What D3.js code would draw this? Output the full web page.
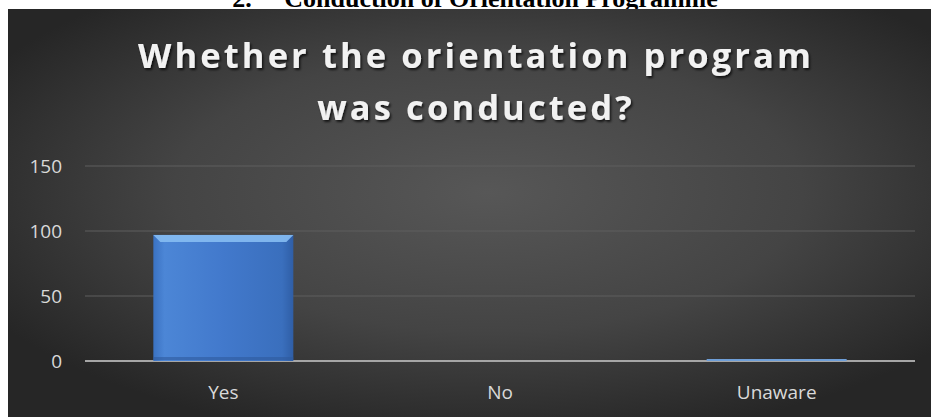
<!DOCTYPE html>
<html>
<head>
<meta charset="utf-8">
<script src="https://cdn.jsdelivr.net/npm/d3@7"></script>
<style>
  html, body { margin: 0; padding: 0; background: #ffffff; }
  svg { display: block; }
</style>
</head>
<body>
<svg id="chart" width="936" height="417"></svg>
<script>
// Survey responses: was the orientation programme conducted?
const categories = ["Yes", "No", "Unaware"];
const responses = [97, 0, 1];
const yTicks = [0, 50, 100, 150];
const heading = "2.\u00A0\u00A0\u00A0\u00A0\u00A0Conduction of Orientation Programme";
const titleLines = ["Whether the orientation program", "was conducted?"];

const panel = { x: 8, y: 9, w: 923, h: 417 - 9 };
const plot = { left: 85, right: 915, top: 166, bottom: 361 };

const svg = d3.select("#chart");
const defs = svg.append("defs");

// Section heading above the chart panel (only its lower part shows)
svg.append("text")
  .attr("x", 475)
  .attr("y", 7)
  .attr("text-anchor", "middle")
  .attr("font-family", "'Liberation Serif', 'Times New Roman', serif")
  .attr("font-weight", "bold")
  .attr("font-size", 26)
  .attr("fill", "#000")
  .text(heading);

// Dark panel with a soft radial light in the middle
const bg = defs.append("radialGradient")
  .attr("id", "bgGrad")
  .attr("cx", "52%").attr("cy", "45%").attr("r", "62%");
bg.append("stop").attr("offset", "0%").attr("stop-color", "#575757");
bg.append("stop").attr("offset", "55%").attr("stop-color", "#444444");
bg.append("stop").attr("offset", "100%").attr("stop-color", "#262626");

svg.append("rect")
  .attr("x", panel.x).attr("y", panel.y)
  .attr("width", panel.w).attr("height", panel.h)
  .attr("fill", "url(#bgGrad)");

// Title with a faint drop shadow
const shadow = defs.append("filter").attr("id", "txtShadow")
  .attr("x", "-5%").attr("y", "-20%").attr("width", "110%").attr("height", "150%");
shadow.append("feDropShadow")
  .attr("dx", 1.5).attr("dy", 2).attr("stdDeviation", 1.2)
  .attr("flood-color", "#000").attr("flood-opacity", 0.7);

svg.append("g").selectAll("text")
  .data(titleLines)
  .join("text")
  .attr("x", 476)
  .attr("y", (d, i) => 68 + i * 52)
  .attr("text-anchor", "middle")
  .attr("font-family", "'Open Sans', sans-serif")
  .attr("font-weight", "bold")
  .attr("font-size", 34.5)
  .attr("letter-spacing", 3.1)
  .attr("fill", "#f2f2f2")
  .attr("filter", "url(#txtShadow)")
  .text(d => d);

// Scales
const x = d3.scaleBand()
  .domain(categories)
  .range([plot.left, plot.right])
  .paddingInner(0.494)
  .paddingOuter(0.247);

const y = d3.scaleLinear()
  .domain([0, 150])
  .range([plot.bottom, plot.top]);

// Gridlines
svg.append("g")
  .selectAll("line")
  .data(yTicks.filter(t => t > 0))
  .join("line")
  .attr("x1", plot.left).attr("x2", plot.right)
  .attr("y1", d => y(d)).attr("y2", d => y(d))
  .attr("stroke", "#5e5e5e")
  .attr("stroke-width", 1);

// Y axis labels
const yAxis = svg.append("g")
  .attr("transform", `translate(${plot.left},0)`)
  .call(d3.axisLeft(y).tickValues(yTicks).tickSize(0).tickPadding(23));
yAxis.select(".domain").remove();
yAxis.selectAll("text")
  .attr("font-family", "'Open Sans', sans-serif")
  .attr("font-size", 19)
  .attr("fill", "#d9d9d9");

// Zero axis line
svg.append("line")
  .attr("x1", plot.left).attr("x2", plot.right)
  .attr("y1", y(0)).attr("y2", y(0))
  .attr("stroke", "#a6a6a6")
  .attr("stroke-width", 2);

// Bars: blue gradient plus a lighter bevel on top
const barGrad = defs.append("linearGradient")
  .attr("id", "barGrad").attr("x1", 0).attr("y1", 0).attr("x2", 1).attr("y2", 0);
barGrad.append("stop").attr("offset", "0%").attr("stop-color", "#3a72c2");
barGrad.append("stop").attr("offset", "8%").attr("stop-color", "#4c86d6");
barGrad.append("stop").attr("offset", "50%").attr("stop-color", "#4279cc");
barGrad.append("stop").attr("offset", "92%").attr("stop-color", "#3a6fbd");
barGrad.append("stop").attr("offset", "100%").attr("stop-color", "#2f5ea6");

const bars = svg.append("g")
  .selectAll("g")
  .data(categories.map((c, i) => ({ c, v: responses[i] })))
  .join("g");

bars.append("rect")
  .attr("x", d => x(d.c))
  .attr("y", d => Math.min(y(d.v), y(0) - 2))
  .attr("width", x.bandwidth())
  .attr("height", d => d.v > 0 ? Math.max(y(0) - y(d.v), 2) : 0)
  .attr("fill", d => (y(0) - y(d.v) > 20) ? "url(#barGrad)" : "#6f9fd8");

// Top bevel highlight
bars.filter(d => y(0) - y(d.v) > 20)
  .append("path")
  .attr("d", d => {
    const x0 = x(d.c), x1 = x0 + x.bandwidth(), t = y(d.v), b = 7;
    return `M${x0},${t} L${x1},${t} L${x1 - b},${t + b} L${x0 + b},${t + b} Z`;
  })
  .attr("fill", "#86bdf2")
  .attr("opacity", 0.9);

// Bottom shading
bars.filter(d => y(0) - y(d.v) > 20)
  .append("rect")
  .attr("x", d => x(d.c))
  .attr("y", d => y(0) - 4)
  .attr("width", x.bandwidth())
  .attr("height", 3)
  .attr("fill", "#2f5a9c")
  .attr("opacity", 0.6);

// Category labels
const xAxis = svg.append("g")
  .attr("transform", `translate(0,${plot.bottom})`)
  .call(d3.axisBottom(x).tickSize(0).tickPadding(25));
xAxis.select(".domain").remove();
xAxis.selectAll("text")
  .attr("font-family", "'Open Sans', sans-serif")
  .attr("font-size", 19)
  .attr("fill", "#d9d9d9");
</script>
</body>
</html>
